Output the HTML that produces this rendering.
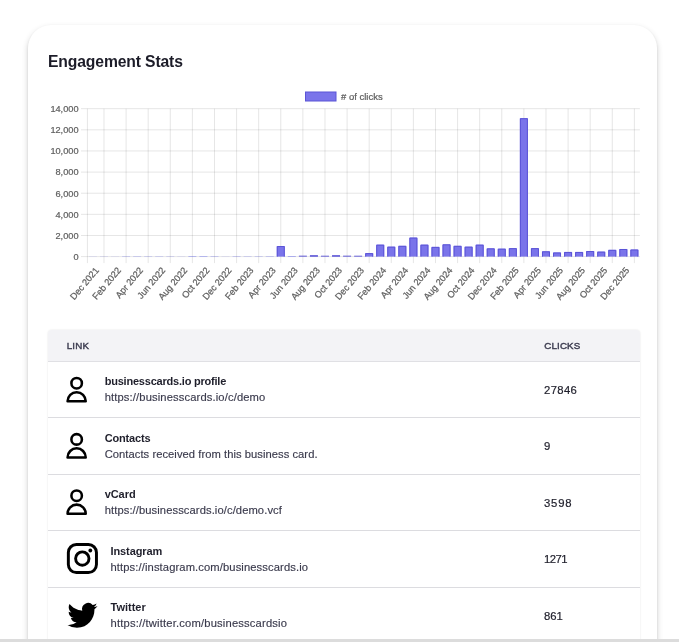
<!DOCTYPE html>
<html><head><meta charset="utf-8"><title>Engagement Stats</title>
<style>
*{box-sizing:border-box;margin:0;padding:0}
html,body{width:679px;height:642px;overflow:hidden;background:#fff;font-family:"Liberation Sans",sans-serif;}
body{position:relative}
.wrap{position:absolute;left:0;top:0;width:679px;height:642px;will-change:transform;transform:translateZ(0)}
.card{position:absolute;left:27.5px;top:24.7px;width:629.5px;height:700px;background:#fff;border-radius:23px;box-shadow:0 3px 6px rgba(0,0,0,.19),0 1px 3px rgba(0,0,0,.08);}
h1{position:absolute;left:48px;top:51.5px;font-size:15.7px;line-height:20px;font-weight:bold;color:#1c1c28;white-space:nowrap;letter-spacing:-.13px}
.chart{position:absolute;left:0;top:80px}
.table{position:absolute;left:48px;top:330px;width:592.3px;height:340px;border-radius:4px 4px 0 0;overflow:hidden;box-shadow:0 0 2px rgba(0,0,0,.12)}
.th{position:absolute;left:0;top:0;width:100%;height:31.5px;background:#f3f3f6;border-bottom:1px solid #e0e0e4}
.th span{position:absolute;top:9.9px;font-size:9.8px;line-height:11px;color:#3b3b4f;letter-spacing:.12px;-webkit-text-stroke:.4px #3b3b4f}
.th .l{left:18.8px} .th .r{left:496.3px}
.row{position:absolute;left:0;width:100%;height:56.5px;border-bottom:1px solid #dcdce0;background:#fff}
.r0{top:31.5px} .r1{top:88px} .r2{top:144.5px} .r3{top:201px} .r4{top:257.5px}
.icons{position:absolute;left:0;top:0;pointer-events:none}
.txt{position:absolute;left:56.7px;top:11.6px;white-space:nowrap}
.big .txt{left:62.5px}
.t{font-size:11px;line-height:16px;font-weight:bold;color:#1f1f2b;}
.u{font-size:11.2px;line-height:16px;color:#3a3a4c;-webkit-text-stroke:.15px #3a3a4c}
.c{position:absolute;left:496px;top:20.3px;font-size:11.3px;line-height:16px;color:#1f1f2b;-webkit-text-stroke:.2px #1f1f2b}
.foot{position:absolute;left:0;top:639px;width:679px;height:3px;background:#dcdcdc}
</style></head>
<body><div class="wrap">
<div class="card"></div>
<h1>Engagement Stats</h1>
<svg class="chart" width="679" height="250" viewBox="0 80 679 250" font-family="Liberation Sans, sans-serif">
<path d="M81 108.70H639.90M81 129.83H639.90M81 150.96H639.90M81 172.09H639.90M81 193.21H639.90M81 214.34H639.90M81 235.47H639.90M81 256.60H639.90M87.40 108.70V263.10M103.98 108.70V263.10M126.08 108.70V263.10M148.18 108.70V263.10M170.28 108.70V263.10M192.38 108.70V263.10M214.48 108.70V263.10M236.58 108.70V263.10M258.68 108.70V263.10M280.77 108.70V263.10M302.88 108.70V263.10M324.98 108.70V263.10M347.08 108.70V263.10M369.18 108.70V263.10M391.27 108.70V263.10M413.38 108.70V263.10M435.48 108.70V263.10M457.58 108.70V263.10M479.68 108.70V263.10M501.77 108.70V263.10M523.88 108.70V263.10M545.98 108.70V263.10M568.08 108.70V263.10M590.18 108.70V263.10M612.27 108.70V263.10M634.38 108.70V263.10" stroke="#000" stroke-opacity="0.1" stroke-width="1" fill="none"/>
<rect x="88.93" y="256.00" width="8.0" height="1" fill="#6366f1" fill-opacity="0.10"/>
<rect x="99.98" y="256.00" width="8.0" height="1" fill="#6366f1" fill-opacity="0.12"/>
<rect x="111.03" y="256.00" width="8.0" height="1" fill="#6366f1" fill-opacity="0.09"/>
<rect x="122.08" y="256.00" width="8.0" height="1" fill="#6366f1" fill-opacity="0.23"/>
<rect x="133.12" y="256.00" width="8.0" height="1" fill="#6366f1" fill-opacity="0.23"/>
<rect x="144.18" y="256.00" width="8.0" height="1" fill="#6366f1" fill-opacity="0.21"/>
<rect x="155.23" y="256.00" width="8.0" height="1" fill="#6366f1" fill-opacity="0.21"/>
<rect x="166.28" y="256.00" width="8.0" height="1" fill="#6366f1" fill-opacity="0.19"/>
<rect x="177.33" y="256.00" width="8.0" height="1" fill="#6366f1" fill-opacity="0.10"/>
<rect x="188.38" y="256.00" width="8.0" height="1" fill="#6366f1" fill-opacity="0.39"/>
<rect x="199.43" y="256.00" width="8.0" height="1" fill="#6366f1" fill-opacity="0.39"/>
<rect x="210.48" y="256.00" width="8.0" height="1" fill="#6366f1" fill-opacity="0.27"/>
<rect x="221.53" y="256.00" width="8.0" height="1" fill="#6366f1" fill-opacity="0.10"/>
<rect x="232.58" y="256.00" width="8.0" height="1" fill="#6366f1" fill-opacity="0.26"/>
<rect x="243.63" y="256.00" width="8.0" height="1" fill="#6366f1" fill-opacity="0.21"/>
<rect x="254.68" y="256.00" width="8.0" height="1" fill="#6366f1" fill-opacity="0.23"/>
<rect x="265.73" y="256.00" width="8.0" height="1" fill="#6366f1" fill-opacity="0.27"/>
<rect x="276.77" y="246.04" width="8.0" height="10.56" fill="#7a74ea"/><path d="M277.27 256.60V246.54H284.27V256.60" fill="none" stroke="#5b54d6" stroke-width="1"/>
<rect x="287.83" y="256.00" width="8.0" height="1" fill="#6366f1" fill-opacity="0.45"/>
<rect x="298.88" y="255.54" width="8.0" height="1.36" fill="#5b54d6" fill-opacity="0.71"/>
<rect x="309.93" y="255.02" width="8.0" height="1.88" fill="#5b54d6" fill-opacity="0.85"/>
<rect x="320.98" y="255.60" width="8.0" height="1.30" fill="#5b54d6" fill-opacity="0.70"/>
<rect x="332.03" y="255.02" width="8.0" height="1.88" fill="#5b54d6" fill-opacity="0.85"/>
<rect x="343.08" y="255.54" width="8.0" height="1.36" fill="#5b54d6" fill-opacity="0.71"/>
<rect x="354.12" y="255.60" width="8.0" height="1.30" fill="#5b54d6" fill-opacity="0.70"/>
<rect x="365.18" y="253.11" width="8.0" height="3.49" fill="#7a74ea"/><path d="M365.68 256.60V253.61H372.68V256.60" fill="none" stroke="#5b54d6" stroke-width="1"/>
<rect x="376.23" y="244.66" width="8.0" height="11.94" fill="#7a74ea"/><path d="M376.73 256.60V245.16H383.73V256.60" fill="none" stroke="#5b54d6" stroke-width="1"/>
<rect x="387.27" y="246.67" width="8.0" height="9.93" fill="#7a74ea"/><path d="M387.77 256.60V247.17H394.77V256.60" fill="none" stroke="#5b54d6" stroke-width="1"/>
<rect x="398.33" y="245.82" width="8.0" height="10.78" fill="#7a74ea"/><path d="M398.83 256.60V246.32H405.83V256.60" fill="none" stroke="#5b54d6" stroke-width="1"/>
<rect x="409.38" y="237.58" width="8.0" height="19.02" fill="#7a74ea"/><path d="M409.88 256.60V238.08H416.88V256.60" fill="none" stroke="#5b54d6" stroke-width="1"/>
<rect x="420.43" y="244.66" width="8.0" height="11.94" fill="#7a74ea"/><path d="M420.93 256.60V245.16H427.93V256.60" fill="none" stroke="#5b54d6" stroke-width="1"/>
<rect x="431.48" y="246.88" width="8.0" height="9.72" fill="#7a74ea"/><path d="M431.98 256.60V247.38H438.98V256.60" fill="none" stroke="#5b54d6" stroke-width="1"/>
<rect x="442.52" y="244.35" width="8.0" height="12.25" fill="#7a74ea"/><path d="M443.02 256.60V244.85H450.02V256.60" fill="none" stroke="#5b54d6" stroke-width="1"/>
<rect x="453.58" y="245.82" width="8.0" height="10.78" fill="#7a74ea"/><path d="M454.08 256.60V246.32H461.08V256.60" fill="none" stroke="#5b54d6" stroke-width="1"/>
<rect x="464.62" y="246.67" width="8.0" height="9.93" fill="#7a74ea"/><path d="M465.12 256.60V247.17H472.12V256.60" fill="none" stroke="#5b54d6" stroke-width="1"/>
<rect x="475.68" y="244.66" width="8.0" height="11.94" fill="#7a74ea"/><path d="M476.18 256.60V245.16H483.18V256.60" fill="none" stroke="#5b54d6" stroke-width="1"/>
<rect x="486.73" y="248.36" width="8.0" height="8.24" fill="#7a74ea"/><path d="M487.23 256.60V248.86H494.23V256.60" fill="none" stroke="#5b54d6" stroke-width="1"/>
<rect x="497.77" y="248.68" width="8.0" height="7.92" fill="#7a74ea"/><path d="M498.27 256.60V249.18H505.27V256.60" fill="none" stroke="#5b54d6" stroke-width="1"/>
<rect x="508.83" y="248.15" width="8.0" height="8.45" fill="#7a74ea"/><path d="M509.33 256.60V248.65H516.33V256.60" fill="none" stroke="#5b54d6" stroke-width="1"/>
<rect x="519.88" y="118.21" width="8.0" height="138.39" fill="#7a74ea"/><path d="M520.38 256.60V118.71H527.38V256.60" fill="none" stroke="#5b54d6" stroke-width="1"/>
<rect x="530.93" y="248.15" width="8.0" height="8.45" fill="#7a74ea"/><path d="M531.43 256.60V248.65H538.43V256.60" fill="none" stroke="#5b54d6" stroke-width="1"/>
<rect x="541.98" y="251.32" width="8.0" height="5.28" fill="#7a74ea"/><path d="M542.48 256.60V251.82H549.48V256.60" fill="none" stroke="#5b54d6" stroke-width="1"/>
<rect x="553.03" y="252.48" width="8.0" height="4.12" fill="#7a74ea"/><path d="M553.53 256.60V252.98H560.53V256.60" fill="none" stroke="#5b54d6" stroke-width="1"/>
<rect x="564.08" y="251.95" width="8.0" height="4.65" fill="#7a74ea"/><path d="M564.58 256.60V252.45H571.58V256.60" fill="none" stroke="#5b54d6" stroke-width="1"/>
<rect x="575.12" y="251.95" width="8.0" height="4.65" fill="#7a74ea"/><path d="M575.62 256.60V252.45H582.62V256.60" fill="none" stroke="#5b54d6" stroke-width="1"/>
<rect x="586.18" y="251.00" width="8.0" height="5.60" fill="#7a74ea"/><path d="M586.68 256.60V251.50H593.68V256.60" fill="none" stroke="#5b54d6" stroke-width="1"/>
<rect x="597.23" y="251.63" width="8.0" height="4.97" fill="#7a74ea"/><path d="M597.73 256.60V252.13H604.73V256.60" fill="none" stroke="#5b54d6" stroke-width="1"/>
<rect x="608.27" y="249.84" width="8.0" height="6.76" fill="#7a74ea"/><path d="M608.77 256.60V250.34H615.77V256.60" fill="none" stroke="#5b54d6" stroke-width="1"/>
<rect x="619.33" y="248.99" width="8.0" height="7.61" fill="#7a74ea"/><path d="M619.83 256.60V249.49H626.83V256.60" fill="none" stroke="#5b54d6" stroke-width="1"/>
<rect x="630.38" y="249.52" width="8.0" height="7.08" fill="#7a74ea"/><path d="M630.88 256.60V250.02H637.88V256.60" fill="none" stroke="#5b54d6" stroke-width="1"/>
<text x="78.5" y="112.00" text-anchor="end" font-size="9.2" fill="#606060" stroke="#606060" stroke-width=".22">14,000</text>
<text x="78.5" y="133.13" text-anchor="end" font-size="9.2" fill="#606060" stroke="#606060" stroke-width=".22">12,000</text>
<text x="78.5" y="154.26" text-anchor="end" font-size="9.2" fill="#606060" stroke="#606060" stroke-width=".22">10,000</text>
<text x="78.5" y="175.39" text-anchor="end" font-size="9.2" fill="#606060" stroke="#606060" stroke-width=".22">8,000</text>
<text x="78.5" y="196.51" text-anchor="end" font-size="9.2" fill="#606060" stroke="#606060" stroke-width=".22">6,000</text>
<text x="78.5" y="217.64" text-anchor="end" font-size="9.2" fill="#606060" stroke="#606060" stroke-width=".22">4,000</text>
<text x="78.5" y="238.77" text-anchor="end" font-size="9.2" fill="#606060" stroke="#606060" stroke-width=".22">2,000</text>
<text x="78.5" y="259.90" text-anchor="end" font-size="9.2" fill="#606060" stroke="#606060" stroke-width=".22">0</text>
<text transform="translate(96.98 268.4) rotate(-50)" text-anchor="end" font-size="9.2" fill="#606060" stroke="#606060" stroke-width=".22" dy="3.2">Dec 2021</text>
<text transform="translate(119.08 268.4) rotate(-50)" text-anchor="end" font-size="9.2" fill="#606060" stroke="#606060" stroke-width=".22" dy="3.2">Feb 2022</text>
<text transform="translate(141.18 268.4) rotate(-50)" text-anchor="end" font-size="9.2" fill="#606060" stroke="#606060" stroke-width=".22" dy="3.2">Apr 2022</text>
<text transform="translate(163.28 268.4) rotate(-50)" text-anchor="end" font-size="9.2" fill="#606060" stroke="#606060" stroke-width=".22" dy="3.2">Jun 2022</text>
<text transform="translate(185.38 268.4) rotate(-50)" text-anchor="end" font-size="9.2" fill="#606060" stroke="#606060" stroke-width=".22" dy="3.2">Aug 2022</text>
<text transform="translate(207.48 268.4) rotate(-50)" text-anchor="end" font-size="9.2" fill="#606060" stroke="#606060" stroke-width=".22" dy="3.2">Oct 2022</text>
<text transform="translate(229.58 268.4) rotate(-50)" text-anchor="end" font-size="9.2" fill="#606060" stroke="#606060" stroke-width=".22" dy="3.2">Dec 2022</text>
<text transform="translate(251.68 268.4) rotate(-50)" text-anchor="end" font-size="9.2" fill="#606060" stroke="#606060" stroke-width=".22" dy="3.2">Feb 2023</text>
<text transform="translate(273.77 268.4) rotate(-50)" text-anchor="end" font-size="9.2" fill="#606060" stroke="#606060" stroke-width=".22" dy="3.2">Apr 2023</text>
<text transform="translate(295.88 268.4) rotate(-50)" text-anchor="end" font-size="9.2" fill="#606060" stroke="#606060" stroke-width=".22" dy="3.2">Jun 2023</text>
<text transform="translate(317.98 268.4) rotate(-50)" text-anchor="end" font-size="9.2" fill="#606060" stroke="#606060" stroke-width=".22" dy="3.2">Aug 2023</text>
<text transform="translate(340.08 268.4) rotate(-50)" text-anchor="end" font-size="9.2" fill="#606060" stroke="#606060" stroke-width=".22" dy="3.2">Oct 2023</text>
<text transform="translate(362.18 268.4) rotate(-50)" text-anchor="end" font-size="9.2" fill="#606060" stroke="#606060" stroke-width=".22" dy="3.2">Dec 2023</text>
<text transform="translate(384.27 268.4) rotate(-50)" text-anchor="end" font-size="9.2" fill="#606060" stroke="#606060" stroke-width=".22" dy="3.2">Feb 2024</text>
<text transform="translate(406.38 268.4) rotate(-50)" text-anchor="end" font-size="9.2" fill="#606060" stroke="#606060" stroke-width=".22" dy="3.2">Apr 2024</text>
<text transform="translate(428.48 268.4) rotate(-50)" text-anchor="end" font-size="9.2" fill="#606060" stroke="#606060" stroke-width=".22" dy="3.2">Jun 2024</text>
<text transform="translate(450.58 268.4) rotate(-50)" text-anchor="end" font-size="9.2" fill="#606060" stroke="#606060" stroke-width=".22" dy="3.2">Aug 2024</text>
<text transform="translate(472.68 268.4) rotate(-50)" text-anchor="end" font-size="9.2" fill="#606060" stroke="#606060" stroke-width=".22" dy="3.2">Oct 2024</text>
<text transform="translate(494.77 268.4) rotate(-50)" text-anchor="end" font-size="9.2" fill="#606060" stroke="#606060" stroke-width=".22" dy="3.2">Dec 2024</text>
<text transform="translate(516.88 268.4) rotate(-50)" text-anchor="end" font-size="9.2" fill="#606060" stroke="#606060" stroke-width=".22" dy="3.2">Feb 2025</text>
<text transform="translate(538.98 268.4) rotate(-50)" text-anchor="end" font-size="9.2" fill="#606060" stroke="#606060" stroke-width=".22" dy="3.2">Apr 2025</text>
<text transform="translate(561.08 268.4) rotate(-50)" text-anchor="end" font-size="9.2" fill="#606060" stroke="#606060" stroke-width=".22" dy="3.2">Jun 2025</text>
<text transform="translate(583.18 268.4) rotate(-50)" text-anchor="end" font-size="9.2" fill="#606060" stroke="#606060" stroke-width=".22" dy="3.2">Aug 2025</text>
<text transform="translate(605.27 268.4) rotate(-50)" text-anchor="end" font-size="9.2" fill="#606060" stroke="#606060" stroke-width=".22" dy="3.2">Oct 2025</text>
<text transform="translate(627.38 268.4) rotate(-50)" text-anchor="end" font-size="9.2" fill="#606060" stroke="#606060" stroke-width=".22" dy="3.2">Dec 2025</text>
<rect x="305.5" y="92" width="30.5" height="9" fill="#7a74ea" stroke="#5b54d6" stroke-width="1"/>
<text x="341" y="99.8" font-size="9.5" fill="#606060" stroke="#606060" stroke-width=".22"># of clicks</text>
</svg>
<div class="table">
<div class="th"><span class="l">LINK</span><span class="r">CLICKS</span></div>
<div class="row r0 user"><div class="txt"><div class="t" style="letter-spacing:-0.214px">businesscards.io profile</div><div class="u" style="letter-spacing:0.13px">https://businesscards.io/c/demo</div></div><div class="c" style="letter-spacing:0.35px">27846</div></div>
<div class="row r1 user"><div class="txt"><div class="t" style="letter-spacing:-0.178px">Contacts</div><div class="u" style="letter-spacing:0.05px">Contacts received from this business card.</div></div><div class="c" style="letter-spacing:0px">9</div></div>
<div class="row r2 user"><div class="txt"><div class="t" style="letter-spacing:-0.065px">vCard</div><div class="u" style="letter-spacing:0.09px">https://businesscards.io/c/demo.vcf</div></div><div class="c" style="letter-spacing:0.8px">3598</div></div>
<div class="row r3 big"><div class="txt"><div class="t" style="letter-spacing:-0.1px">Instagram</div><div class="u" style="letter-spacing:0.11px">https://instagram.com/businesscards.io</div></div><div class="c" style="letter-spacing:-0.55px">1271</div></div>
<div class="row r4 big"><div class="txt"><div class="t" style="letter-spacing:0.0px">Twitter</div><div class="u" style="letter-spacing:0.18px">https://twitter.com/businesscardsio</div></div><div class="c" style="letter-spacing:-0.05px">861</div></div>
</div>
<svg class="icons" width="679" height="642" viewBox="0 0 679 642"><circle cx="76.65" cy="383.225" r="5.25" fill="none" stroke="#000" stroke-width="2.55"/><path d="M67.575 401.325A9.075 9.15 0 0 1 85.725 401.325Z" fill="none" stroke="#000" stroke-width="2.55" stroke-linejoin="round"/><circle cx="76.65" cy="439.375" r="5.25" fill="none" stroke="#000" stroke-width="2.55"/><path d="M67.575 457.475A9.075 9.15 0 0 1 85.725 457.475Z" fill="none" stroke="#000" stroke-width="2.55" stroke-linejoin="round"/><circle cx="76.65" cy="495.675" r="5.25" fill="none" stroke="#000" stroke-width="2.55"/><path d="M67.575 513.775A9.075 9.15 0 0 1 85.725 513.775Z" fill="none" stroke="#000" stroke-width="2.55" stroke-linejoin="round"/><rect x="68.35" y="544.55" width="28.1" height="28.0" rx="8" ry="8" fill="none" stroke="#000" stroke-width="2.95"/><circle cx="82.3" cy="558.6" r="6.7" fill="none" stroke="#000" stroke-width="2.9"/><circle cx="90.3" cy="550.5" r="1.9" fill="#000"/><path transform="translate(67.5 600.092) scale(1.2500 1.2720)" fill="#000" d="M23.953 4.57a10 10 0 01-2.825.775 4.958 4.958 0 002.163-2.723c-.951.555-2.005.959-3.127 1.184a4.92 4.92 0 00-8.384 4.482C7.69 8.095 4.067 6.13 1.64 3.162a4.822 4.822 0 00-.666 2.475c0 1.71.87 3.213 2.188 4.096a4.904 4.904 0 01-2.228-.616v.06a4.923 4.923 0 003.946 4.827 4.996 4.996 0 01-2.212.085 4.936 4.936 0 004.604 3.417 9.867 9.867 0 01-6.102 2.105c-.39 0-.779-.023-1.17-.067a13.995 13.995 0 007.557 2.209c9.053 0 13.998-7.496 13.998-13.985 0-.21 0-.42-.015-.63A9.935 9.935 0 0024 4.59z"/></svg>
<div class="foot"></div>
</div></body></html>
